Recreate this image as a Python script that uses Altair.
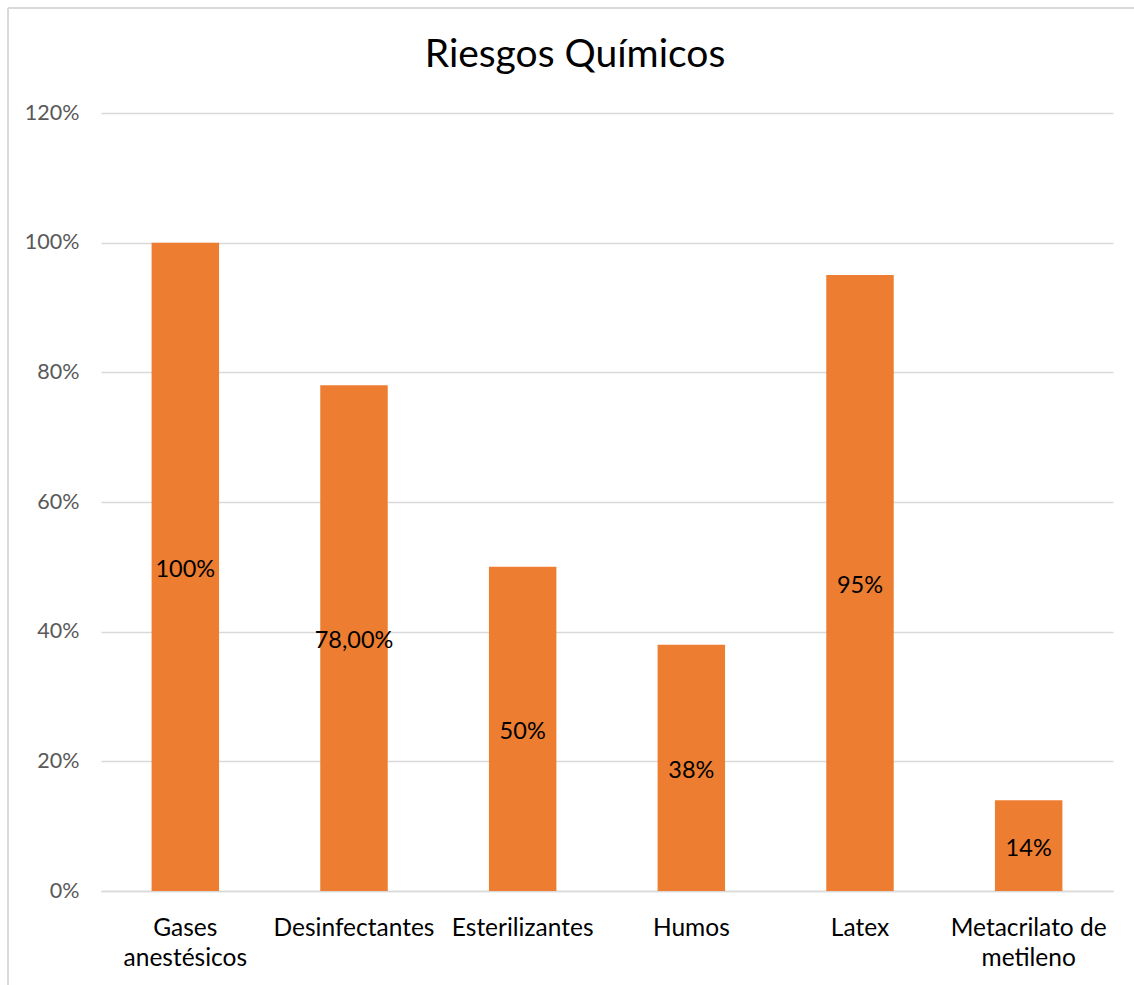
import altair as alt
import pandas as pd

categories = ["Gases anestésicos", "Desinfectantes", "Esterilizantes", "Humos", "Latex", "Metacrilato de metileno"]
values = [1.00, 0.78, 0.50, 0.38, 0.95, 0.14]
value_labels = ["100%", "78,00%", "50%", "38%", "95%", "14%"]
tick_values = [0, 0.2, 0.4, 0.6, 0.8, 1.0, 1.2]
title_text = "Riesgos Químicos"

df = pd.DataFrame({"cat": categories, "val": values, "lab": value_labels})
one = pd.DataFrame({"t": [title_text]})

FONT = "Lato"
GRID = "#D9D9D9"

label_expr = (
    "datum.value == 'Gases anestésicos' ? ['Gases', 'anestésicos'] : "
    "datum.value == 'Metacrilato de metileno' ? ['Metacrilato de', 'metileno'] : datum.value"
)

x = alt.X(
    "cat:N",
    sort=categories,
    scale=alt.Scale(paddingInner=0.6, paddingOuter=0.3),
    axis=alt.Axis(
        title=None, labelAngle=0, ticks=False, grid=False, domain=True, domainColor=GRID, domainWidth=1.3,
        labelFont=FONT, labelFontSize=24.5, labelColor="#000000", labelPadding=25,
        labelLineHeight=30, labelExpr=label_expr, labelLimit=300,
    ),
)
y = alt.Y(
    "val:Q",
    scale=alt.Scale(domain=[0, 1.2], nice=False),
    axis=alt.Axis(
        title=None, format=".0%", values=tick_values, ticks=False, domain=False,
        grid=True, gridColor=GRID, gridWidth=1.3,
        labelFont=FONT, labelFontSize=21.5, labelColor="#595959", labelPadding=22,
    ),
)

bars = alt.Chart(df).mark_bar(color="#ED7D31").encode(x=x, y=y)

labels = alt.Chart(df).transform_calculate(mid="datum.val / 2").mark_text(
    font=FONT, fontSize=23.5, color="#000000", baseline="middle", align="center", dy=3
).encode(x=alt.X("cat:N", sort=categories), y=alt.Y("mid:Q"), text="lab:N")

frame_top = alt.Chart(one).mark_rule(color=GRID, strokeWidth=2).encode(
    x=alt.value(-93), x2=alt.value(1040), y=alt.value(-105)
)
frame_left = alt.Chart(one).mark_rule(color=GRID, strokeWidth=2).encode(
    x=alt.value(-93), y=alt.value(-105), y2=alt.value(900)
)
title = alt.Chart(one).mark_text(
    font=FONT, fontSize=39, fontWeight="normal", color="#000000", align="center", baseline="middle"
).encode(x=alt.value(474), y=alt.value(-58), text="t:N")

chart = alt.layer(frame_top, frame_left, bars, labels, title).properties(
    width=1012,
    height=778,
    autosize=alt.AutoSizeParams(type="none"),
    padding={"left": 101, "top": 113, "right": 21, "bottom": 94},
).configure(background="white").configure_view(stroke=None, strokeWidth=0)

chart.save("out.html", embed_options={"renderer": "svg", "actions": False})
